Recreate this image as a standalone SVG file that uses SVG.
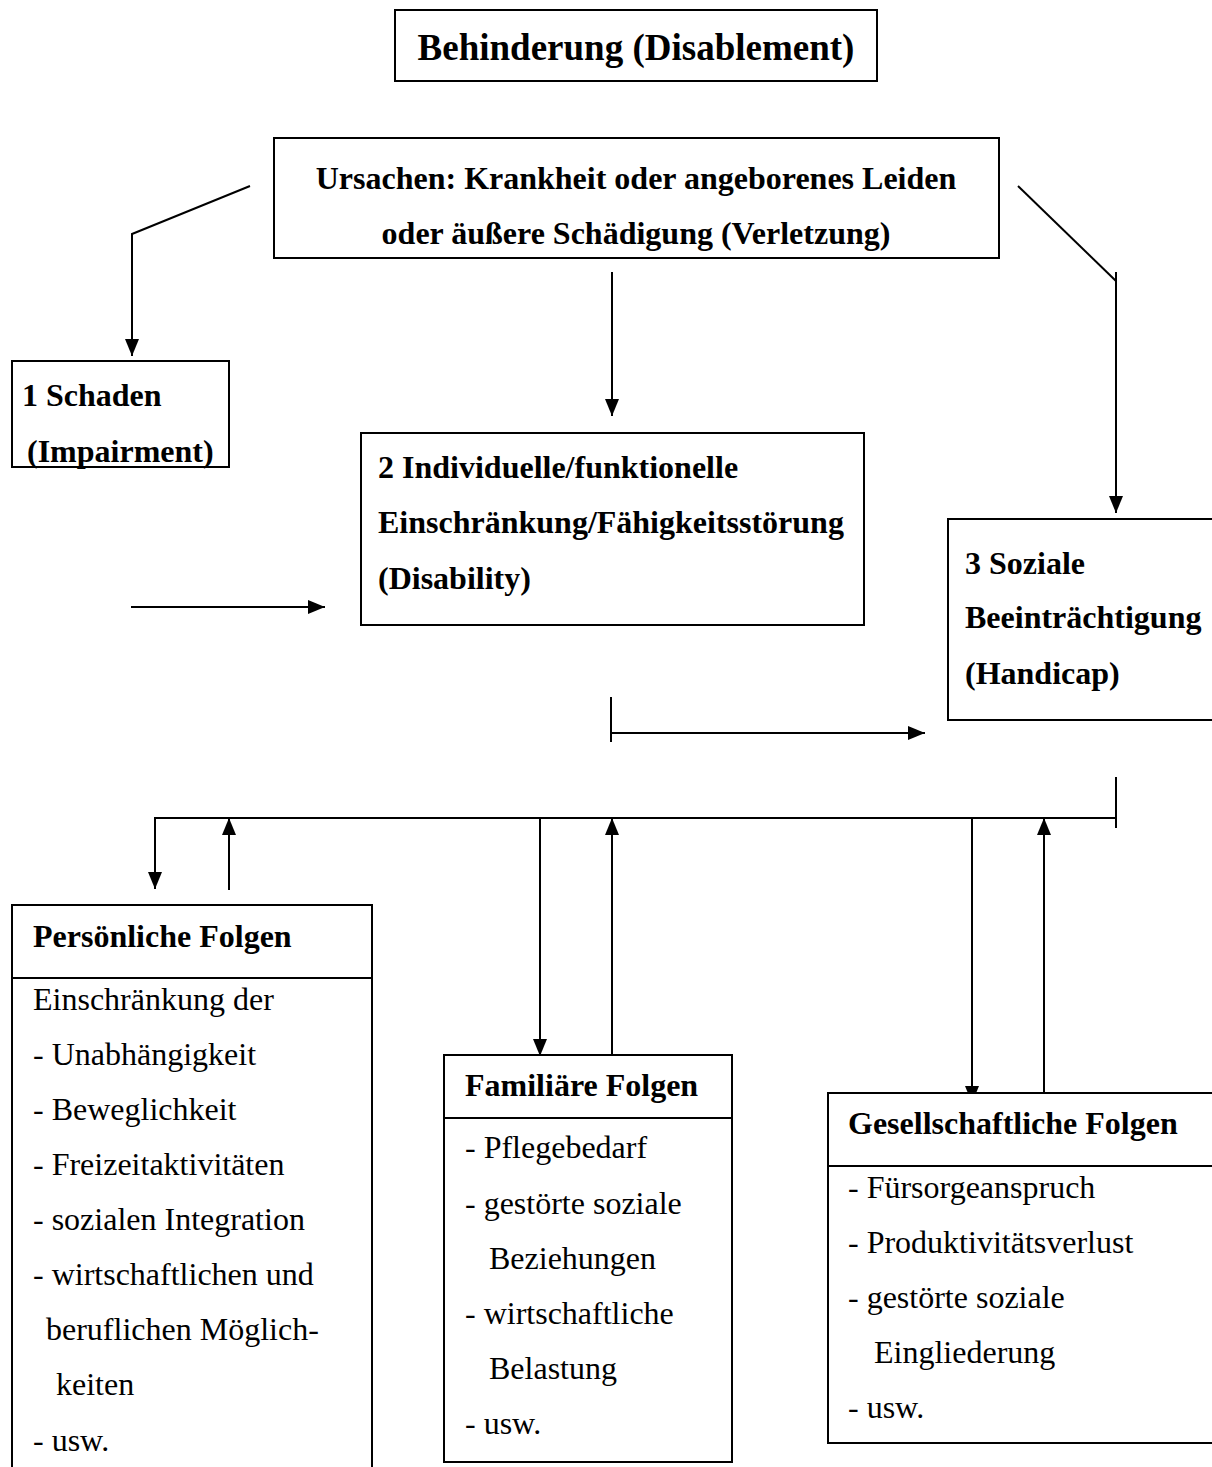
<svg xmlns="http://www.w3.org/2000/svg" width="1212" height="1467" viewBox="0 0 1212 1467">
<style>
.box{fill:#fff;stroke:#000;stroke-width:2}
.ln{fill:none;stroke:#000;stroke-width:2}
.b{font-family:"Liberation Serif","Times New Roman",serif;font-weight:bold;font-size:32px;fill:#000}
.r{font-family:"Liberation Serif","Times New Roman",serif;font-size:32px;fill:#000}
.t{font-family:"Liberation Serif","Times New Roman",serif;font-weight:bold;font-size:37px;fill:#000}
</style>
<defs>
<marker id="ah" markerUnits="userSpaceOnUse" markerWidth="17" markerHeight="14" refX="17" refY="7" orient="auto">
<path d="M0,0 L17,7 L0,14 z" fill="#000"/>
</marker>
</defs>
<rect width="1212" height="1467" fill="#fff"/>
<g id="connectors">
<path class="ln" d="M250,186 L132,234 L132,356" marker-end="url(#ah)"/>
<path class="ln" d="M612,272 L612,416" marker-end="url(#ah)"/>
<path class="ln" d="M1018,186 L1116,281"/>
<path class="ln" d="M1116,272 L1116,513" marker-end="url(#ah)"/>
<path class="ln" d="M131,607 L325,607" marker-end="url(#ah)"/>
<path class="ln" d="M611,697 L611,742"/>
<path class="ln" d="M611,733 L925,733" marker-end="url(#ah)"/>
<path class="ln" d="M155,818 L1116,818"/>
<path class="ln" d="M1116,777 L1116,828"/>
<path class="ln" d="M155,817 L155,889" marker-end="url(#ah)"/>
<path class="ln" d="M229,890 L229,818" marker-end="url(#ah)"/>
<path class="ln" d="M540,818 L540,1056" marker-end="url(#ah)"/>
<path class="ln" d="M612,1055 L612,818" marker-end="url(#ah)"/>
<path class="ln" d="M972,818 L972,1103" marker-end="url(#ah)"/>
<path class="ln" d="M1044,1106 L1044,818" marker-end="url(#ah)"/>
</g>
<g id="title">
<rect class="box" x="395" y="10" width="482" height="71"/>
<text class="t" x="636" y="60" text-anchor="middle">Behinderung (Disablement)</text>
</g>
<g id="ursachen">
<rect class="box" x="274" y="138" width="725" height="120"/>
<text class="b" x="636" y="189" text-anchor="middle">Ursachen: Krankheit oder angeborenes Leiden</text>
<text class="b" x="636" y="244" text-anchor="middle">oder äußere Schädigung (Verletzung)</text>
</g>
<g id="schaden">
<rect class="box" x="12" y="361" width="217" height="106"/>
<text class="b" x="22" y="406">1 Schaden</text>
<text class="b" x="27" y="462">(Impairment)</text>
</g>
<g id="disability">
<rect class="box" x="361" y="433" width="503" height="192"/>
<text class="b" x="378" y="478">2 Individuelle/funktionelle</text>
<text class="b" x="378" y="533">Einschränkung/Fähigkeitsstörung</text>
<text class="b" x="378" y="589">(Disability)</text>
</g>
<g id="handicap">
<rect class="box" x="948" y="519" width="275" height="201"/>
<text class="b" x="965" y="574">3 Soziale</text>
<text class="b" x="965" y="628">Beeinträchtigung</text>
<text class="b" x="965" y="684">(Handicap)</text>
</g>
<g id="persoenlich">
<rect class="box" x="12" y="905" width="360" height="580"/>
<line class="ln" x1="12" y1="978" x2="372" y2="978"/>
<text class="b" x="33" y="947">Persönliche Folgen</text>
<text class="r" x="33" y="1010">Einschränkung der</text>
<text class="r" x="33" y="1065">- Unabhängigkeit</text>
<text class="r" x="33" y="1120">- Beweglichkeit</text>
<text class="r" x="33" y="1175">- Freizeitaktivitäten</text>
<text class="r" x="33" y="1230">- sozialen Integration</text>
<text class="r" x="33" y="1285">- wirtschaftlichen und</text>
<text class="r" x="46" y="1340">beruflichen Möglich-</text>
<text class="r" x="56" y="1395">keiten</text>
<text class="r" x="33" y="1451">- usw.</text>
</g>
<g id="familiaer">
<rect class="box" x="444" y="1055" width="288" height="407"/>
<line class="ln" x1="444" y1="1118" x2="732" y2="1118"/>
<text class="b" x="465" y="1096">Familiäre Folgen</text>
<text class="r" x="465" y="1158">- Pflegebedarf</text>
<text class="r" x="465" y="1214">- gestörte soziale</text>
<text class="r" x="489" y="1269">Beziehungen</text>
<text class="r" x="465" y="1324">- wirtschaftliche</text>
<text class="r" x="489" y="1379">Belastung</text>
<text class="r" x="465" y="1434">- usw.</text>
</g>
<g id="gesellschaft">
<rect class="box" x="828" y="1093" width="395" height="350"/>
<line class="ln" x1="828" y1="1166" x2="1212" y2="1166"/>
<text class="b" x="848" y="1134">Gesellschaftliche Folgen</text>
<text class="r" x="848" y="1198">- Fürsorgeanspruch</text>
<text class="r" x="848" y="1253">- Produktivitätsverlust</text>
<text class="r" x="848" y="1308">- gestörte soziale</text>
<text class="r" x="874" y="1363">Eingliederung</text>
<text class="r" x="848" y="1418">- usw.</text>
</g>
</svg>
